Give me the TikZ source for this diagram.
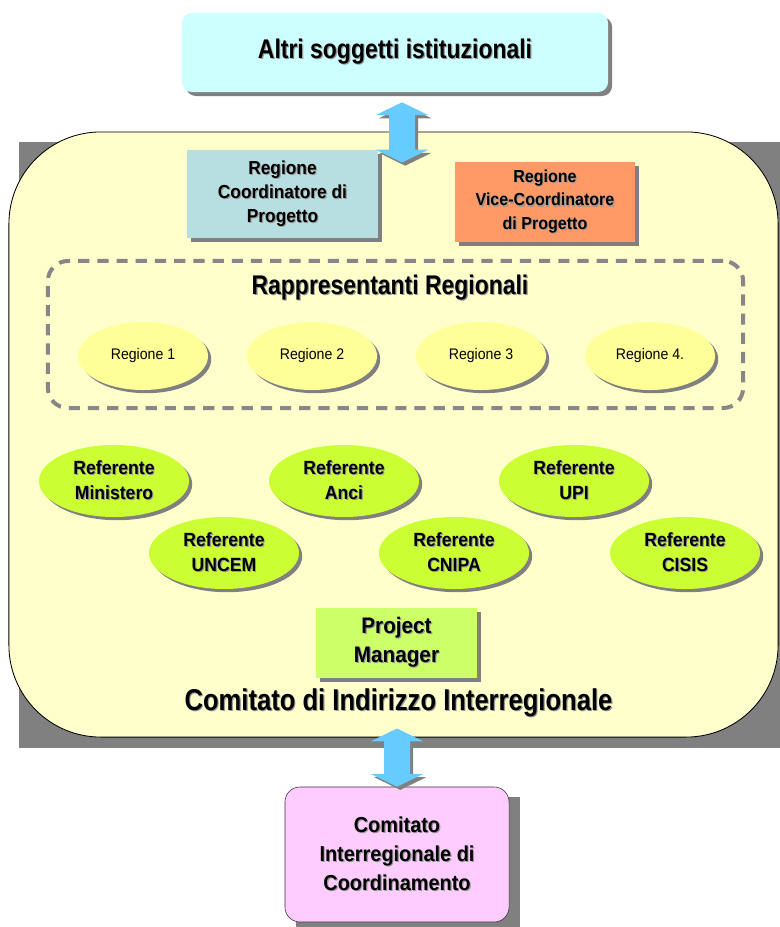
\documentclass[tikz,border=0pt]{standalone}
\usepackage{fontspec}
\setmainfont{Liberation Sans}[FakeStretch=0.92]
\newfontfamily\titlefont{Liberation Sans}[FakeStretch=0.85]
\usepackage{tikz}
\usetikzlibrary{arrows.meta,shapes,shadows,calc}

\definecolor{cyanbox}{HTML}{CCFFFF}
\definecolor{contyellow}{HTML}{FFFFCC}
\definecolor{coordblue}{HTML}{B7DEE1}
\definecolor{viceorange}{HTML}{FF9966}
\definecolor{regyellow}{HTML}{FFFF99}
\definecolor{refgreen}{HTML}{CCFF33}
\definecolor{pmgreen}{HTML}{CCFF66}
\definecolor{pinkbox}{HTML}{FFCCFF}
\definecolor{arrowblue}{HTML}{66CCFF}
\definecolor{dashgray}{HTML}{878787}

% text with a small grey shadow
\newcommand{\shd}[1]{\leavevmode\rlap{\kern0.8pt\raisebox{-0.8pt}{\textcolor{black!40}{#1}}}#1}

\tikzset{
  boxshadow/.style={drop shadow={shadow xshift=0.1cm,shadow yshift=-0.1cm,fill=black!50,opacity=1}},
  ellshadow/.style={drop shadow={shadow xshift=0.08cm,shadow yshift=-0.08cm,fill=black!50,opacity=1}},
  rbox/.style={rectangle,align=center,inner sep=0pt,boxshadow},
  regell/.style={ellipse,fill=regyellow,minimum width=3.25cm,minimum height=1.7cm,inner sep=0pt,ellshadow,font=\fontsize{10.9}{13}\selectfont},
  refell/.style={ellipse,fill=refgreen,minimum width=3.75cm,minimum height=1.8cm,inner sep=0pt,align=center,ellshadow,font=\fontsize{13.6}{17.8}\selectfont\bfseries},
  titletext/.style={font=\titlefont\fontsize{19.2}{23}\selectfont\bfseries},
  dblhead/.style={{Triangle[length=0.32cm,width=1.3cm]}-{Triangle[length=0.32cm,width=1.3cm]}},
  dblarrow/.style={line width=0.65cm,draw=arrowblue,dblhead,
    preaction={draw=black!50,line width=0.65cm,dblhead,transform canvas={shift={(0.08cm,-0.08cm)}}}}
}

\begin{document}
\begin{tikzpicture}[x=0.025cm,y=-0.025cm]
  \useasboundingbox (0,0) rectangle (779,927);
  % Big container and its square shadow
  \fill[black!50] (19,142) rectangle (795,748);
  \node[draw=black,fill=contyellow,rounded corners=2.3cm,minimum width=19.225cm,minimum height=15.125cm,line width=0.6pt] (Cont) at (393.5,434.5) {};
  % Top box
  \node[rbox,fill=cyanbox,rounded corners=0.25cm,minimum width=10.65cm,minimum height=1.975cm,titletext] (Top) at (395,52.5) {\shd{Altri soggetti istituzionali}};
  % Arrow between top box and container
  \coordinate (A1) at ($(Top.south)+(7,10)$);
  \coordinate (A2) at ($(Cont.north)+(8.5,31)$);
  \draw[dblarrow] (A1) -- (A2);
  % Coordinator boxes
  \node[rbox,fill=coordblue,minimum width=4.775cm,minimum height=2.2cm,font=\fontsize{13.4}{17}\selectfont\bfseries] (Coord) at (282.5,194) {\shd{Regione}\\\shd{Coordinatore di}\\\shd{Progetto}};
  \node[rbox,fill=viceorange,minimum width=4.5cm,minimum height=2cm,font=\fontsize{12.4}{16.7}\selectfont\bfseries] (Vice) at (545,202) {\shd{Regione}\\\shd{Vice-Coordinatore}\\\shd{di Progetto}};
  % Dashed frame of the regional representatives
  \node[draw=dashgray,line width=0.1cm,dash pattern=on 0.28cm off 0.2cm,rounded corners=0.5cm,minimum width=17.375cm,minimum height=3.675cm] (Rapp) at (395.5,334.5) {};
  \node[titletext] (RappT) at (390,288) {\shd{Rappresentanti Regionali}};
  \node[regell] (R1) at (143,356) {Regione 1};
  \node[regell] (R2) at (312,356) {Regione 2};
  \node[regell] (R3) at (481,356) {Regione 3};
  \node[regell] (R4) at (650,356) {Regione 4.};
  % Referents
  \node[refell] (Ref1) at (114,481) {\shd{Referente}\\\shd{Ministero}};
  \node[refell] (Ref2) at (344,481) {\shd{Referente}\\\shd{Anci}};
  \node[refell] (Ref3) at (574,481) {\shd{Referente}\\\shd{UPI}};
  \node[refell] (Ref4) at (224,553) {\shd{Referente}\\\shd{UNCEM}};
  \node[refell] (Ref5) at (454,553) {\shd{Referente}\\\shd{CNIPA}};
  \node[refell] (Ref6) at (685,553) {\shd{Referente}\\\shd{CISIS}};
  % Project manager and title
  \node[rbox,fill=pmgreen,minimum width=4.025cm,minimum height=1.75cm,font=\fontsize{16}{20.6}\selectfont\bfseries] (PM) at (396.5,643) {\shd{Project}\\\shd{Manager}};
  \node[titletext,font=\titlefont\fontsize{21.4}{25}\selectfont\bfseries] (CiiT) at (398.5,703) {\shd{Comitato di Indirizzo Interregionale}};
  % Bottom box and its square shadow
  \fill[black!50] (296,797) rectangle (520,935);
  \node[draw=black!80,fill=pinkbox,rounded corners=0.375cm,minimum width=5.6cm,minimum height=3.375cm,align=center,inner sep=0pt,font=\fontsize{15.4}{20.6}\selectfont\bfseries] (Cic) at (397,854.5) {\shd{Comitato}\\\shd{Interregionale di}\\\shd{Coordinamento}};
  \coordinate (B1) at ($(Cont.south)+(3.5,-9)$);
  \draw[dblarrow] (B1) -- (Cic.north);
\end{tikzpicture}
\end{document}
